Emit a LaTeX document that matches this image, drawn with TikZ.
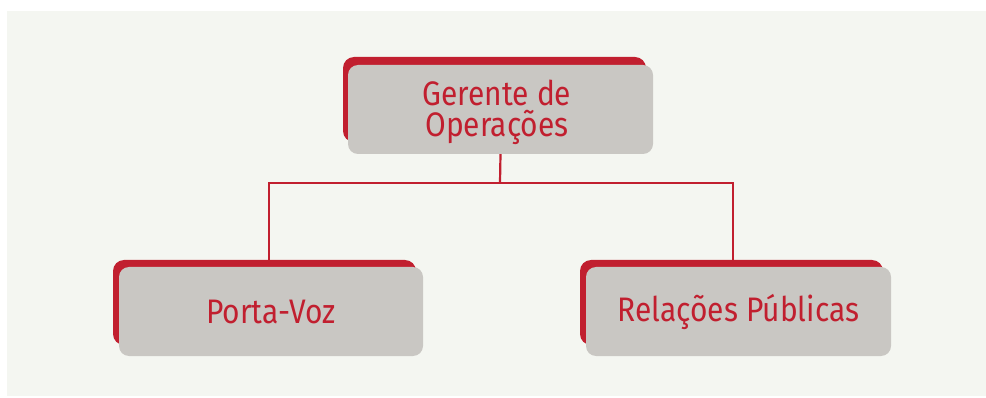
\documentclass[tikz,border=0pt]{standalone}
\usepackage{fontspec}
\setmainfont{Fira Sans}[FakeStretch=0.88]
\definecolor{panel}{HTML}{F4F6F1}
\definecolor{boxgray}{HTML}{C9C7C3}
\definecolor{crimson}{HTML}{C11F2F}
\tikzset{
  graybox/.style={fill=boxgray, rounded corners=10pt, draw=none, inner sep=0pt,
    text=crimson, font=\fontsize{34}{30}\selectfont, align=center},
  boxtext/.style={inner sep=0pt, text=crimson, font=\fontsize{34}{31}\selectfont, align=center},
  redback/.style={fill=crimson, rounded corners=11pt},
  link/.style={draw=crimson, line width=2.2pt}
}
\begin{document}
\begin{tikzpicture}[x=1pt,y=-1pt]
\useasboundingbox (0,0) rectangle (986,398);
\fill[white] (0,0) rectangle (986,398);
\fill[panel] (7,11) rectangle (986,396);
% red backing shapes
\path[redback] (343,57) rectangle (646,142);
\path[redback] (113,260) rectangle (416,345);
\path[redback] (580,260) rectangle (883,345);
% gray boxes
\node[graybox, minimum width=305pt, minimum height=89pt] (top) at (500.5,109.5) {};
\node[boxtext, anchor=base] (toptext) at (497,137) {Gerente de\\Operações};
\node[graybox, minimum width=304pt, minimum height=89pt] (left) at (271,311.5) {Porta-Voz};
\node[graybox, minimum width=305pt, minimum height=89pt] (right) at (738.5,311.5) {Relações Públicas};
% connectors
\coordinate (j) at (500,183);
\coordinate (lj) at (269,183);
\coordinate (rj) at (733,183);
\coordinate (lt) at (269,260);
\coordinate (rt) at (733,260);
\draw[link] (top.south) -- (j);
\draw[link] (lt) -- (lj) -- (rj) -- (rt);
\end{tikzpicture}
\end{document}
